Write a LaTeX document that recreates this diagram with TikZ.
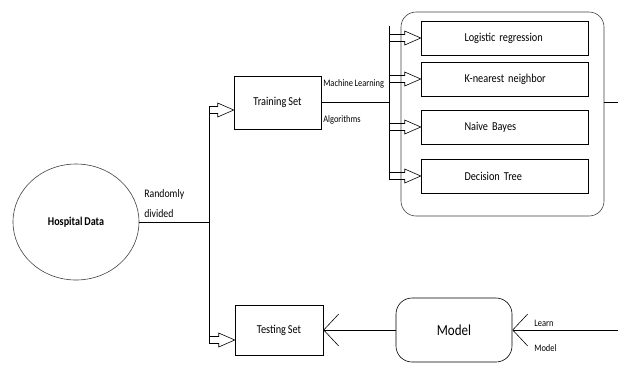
\documentclass[tikz,border=0pt]{standalone}
\usepackage{fontspec}
\setmainfont{Carlito}[FakeStretch=0.85,WordSpace=0.8]
\usetikzlibrary{arrows.meta,calc,shapes.geometric}

\begin{document}
\begin{tikzpicture}[x=1pt,y=-1pt,line width=0.6pt,
	box/.style={draw,minimum width=88,minimum height=52,font=\fontsize{12.1}{14}\selectfont},
	algbox/.style={draw,minimum height=34,text width=80,inner xsep=43.5,align=left,font=\fontsize{12.1}{14}\selectfont},
	lbl/.style={anchor=west,inner sep=0pt,font=\fontsize{9.9}{12}\selectfont},
	barb/.style={-{Straight Barb[length=15pt,width=32pt]}},
	hollow/.style={to path={($(\tikztostart)+(0,-3.5)$) -- ($(\tikztotarget)+(-16,-3.5)$) -- ($(\tikztotarget)+(-16,-7)$) -- (\tikztotarget) -- ($(\tikztotarget)+(-16,7)$) -- ($(\tikztotarget)+(-16,3.5)$) -- ($(\tikztostart)+(0,3.5)$)}}]
	\useasboundingbox (0,0) rectangle (618,365);
	\node[draw=black!75,ellipse,minimum width=126,minimum height=116,font=\bfseries\fontsize{11.9}{14}\selectfont] (hosp) at (76,222) {Hospital Data};
	\node[box,minimum width=87,minimum height=53] (train) at (277.5,102.5) {Training Set};
	\node[box,minimum height=50] (test) at (279,330) {Testing Set};
	\node[draw,rounded corners=16,minimum width=116,minimum height=64,font=\fontsize{15.3}{18}\selectfont] (model) at (454,330) {Model};
	\node[draw=black!75,rounded corners=15,minimum width=203,minimum height=204] (algs) at (502.5,114) {};
	\node[algbox] (lr) at (504.5,38) {\mbox{Logistic regression}};
	\node[algbox] (knn) at (504.5,79) {\mbox{K-nearest neighbor}};
	\node[algbox] (nb) at (504.5,127) {Naive Bayes};
	\node[algbox] (dt) at (504.5,176) {Decision Tree};
	\node[lbl,align=left,font=\fontsize{11.5}{20}\selectfont] (rd) at (144,204) {Randomly\\divided};
	\node[lbl] (ml) at (323,84) {Machine Learning};
	\node[lbl] (alg) at (323,120) {Algorithms};
	\node[lbl] (learn) at (534,323) {Learn};
	\node[lbl] (lm) at (534,348) {Model};
	\coordinate (split) at (209,222);
	\coordinate (s1) at (209,110);
	\coordinate (s2) at (209,340);
	\coordinate (bus) at (389,102.5);
	\coordinate (bustop) at (389,26);
	\coordinate (busbot) at (389,179.5);
	\coordinate (out) at (618,102.5);
	\coordinate (in) at (618,330);
	% split of the data
	\draw (hosp) -- (split);
	\draw ($(s1)+(0,-3.5)$) -- ($(s2)+(0,3.5)$);
	\draw[hollow] (s1) to (s1 -| train.west);
	\draw[hollow] (s2) to (s2 -| test.west);
	% algorithms
	\draw (train.east) -- (bus);
	\draw (bustop) -- (busbot);
	\foreach \b in {lr,knn,nb,dt}
		\draw[hollow] (bustop |- \b.west) to (\b.west);
	\draw (algs.east |- out) -- (out);
	% model
	\draw[barb] (in) -- (model.east);
	\draw[barb] (model.west) -- (test.east);
\end{tikzpicture}
\end{document}
